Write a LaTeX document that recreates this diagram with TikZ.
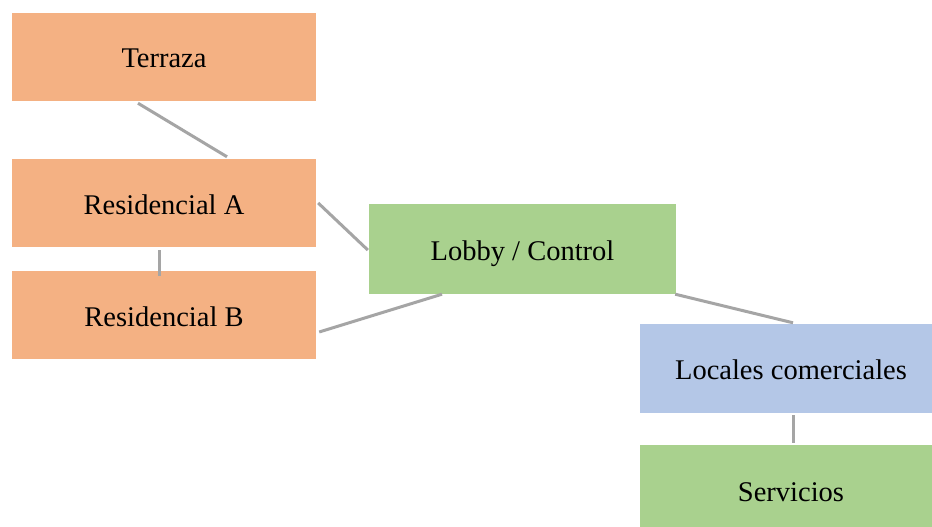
\documentclass[tikz,border=0pt]{standalone}
\usepackage{fontspec}
\setmainfont{Liberation Serif}
\definecolor{boxorange}{HTML}{F4B183}
\definecolor{boxgreen}{HTML}{A9D18E}
\definecolor{boxblue}{HTML}{B4C7E7}
\definecolor{linkgray}{HTML}{A5A5A5}
\begin{document}
\begin{tikzpicture}[x=1pt,y=-1pt,
  box/.style={rectangle, inner sep=0pt, minimum width=304pt, minimum height=88pt,
    text height=22pt, text depth=0pt,
    font=\fontsize{28.5}{34}\selectfont, text=black},
  link/.style={draw=linkgray, line width=3pt}]
\useasboundingbox (0,0) rectangle (932,527);
\clip (0,0) rectangle (932,527);
\fill[white] (0,0) rectangle (932,527);
\node[box, fill=boxorange] (terraza) at (164,57) {Terraza};
\node[box, fill=boxorange] (resA) at (164,203) {Residencial A};
\node[box, fill=boxorange] (resB) at (164,315) {Residencial B};
\node[box, fill=boxgreen, minimum width=307pt, minimum height=90pt] (lobby) at (522.5,249) {Lobby / Control};
\node[box, fill=boxblue, minimum width=302pt, minimum height=89pt] (locales) at (791,368.5) {Locales comerciales};
\node[box, fill=boxgreen, minimum width=302pt, minimum height=90pt] (servicios) at (791,490) {Servicios};
\draw[link] ([xshift=-26pt,yshift=-2pt]terraza.south) -- ([xshift=63pt,yshift=2pt]resA.north);
\draw[link] ([xshift=-5pt,yshift=-3pt]resA.south) -- ([xshift=-5pt,yshift=-5pt]resB.north);
\draw[link] ([xshift=2pt]resA.east) -- ([xshift=-1pt,yshift=-1pt]lobby.west);
\draw[link] ([xshift=3pt,yshift=-17pt]resB.east) -- ([xshift=-80.5pt]lobby.south);
\draw[link] ([xshift=-1pt]lobby.south east) -- ([xshift=2pt,yshift=1pt]locales.north);
\draw[link] ([xshift=2pt,yshift=-2pt]locales.south) -- ([xshift=2pt,yshift=2pt]servicios.north);
\end{tikzpicture}
\end{document}
